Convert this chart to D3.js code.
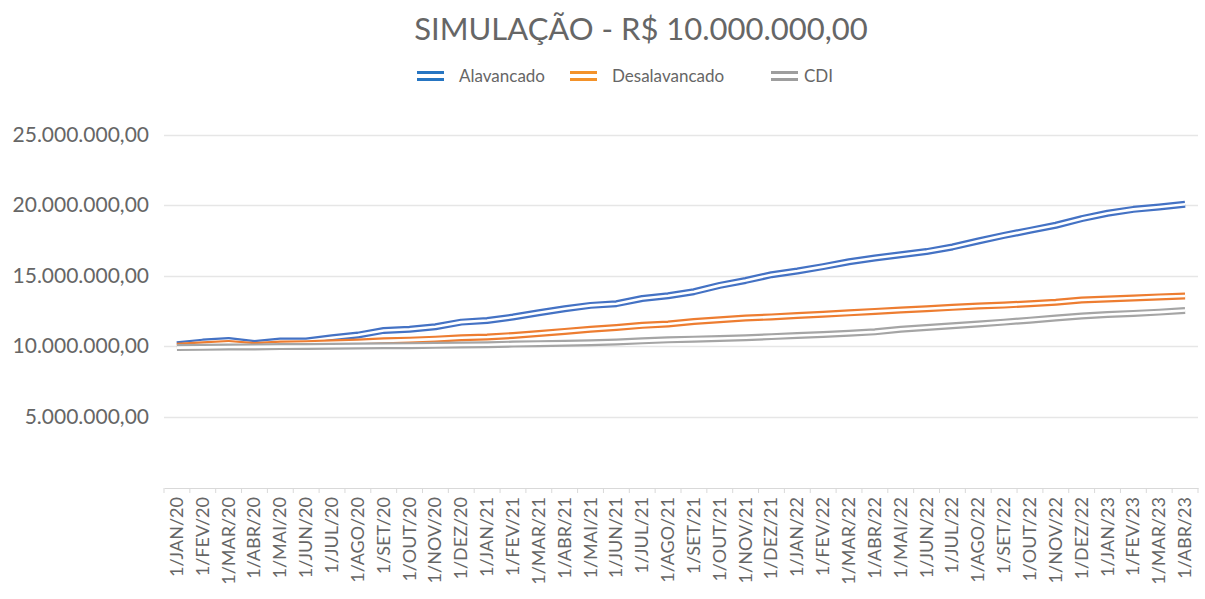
<!DOCTYPE html>
<html>
<head>
<meta charset="utf-8">
<script src="https://cdn.jsdelivr.net/npm/d3@7"></script>
<style>
  body { margin: 0; background: #fff; }
  text { font-family: Lato, "Open Sans", sans-serif; fill: #595959; }
</style>
</head>
<body>
<script>
// categories (months)
var months = ["1/JAN/20","1/FEV/20","1/MAR/20","1/ABR/20","1/MAI/20","1/JUN/20","1/JUL/20","1/AGO/20","1/SET/20","1/OUT/20","1/NOV/20","1/DEZ/20",
  "1/JAN/21","1/FEV/21","1/MAR/21","1/ABR/21","1/MAI/21","1/JUN/21","1/JUL/21","1/AGO/21","1/SET/21","1/OUT/21","1/NOV/21","1/DEZ/21",
  "1/JAN/22","1/FEV/22","1/MAR/22","1/ABR/22","1/MAI/22","1/JUN/22","1/JUL/22","1/AGO/22","1/SET/22","1/OUT/22","1/NOV/22","1/DEZ/22",
  "1/JAN/23","1/FEV/23","1/MAR/23","1/ABR/23"];

// series values, in millions
var alavancado = [10.1,10.29,10.4,10.19,10.37,10.37,10.6,10.79,11.12,11.2,11.38,11.71,
  11.83,12.07,12.38,12.66,12.9,13.02,13.39,13.58,13.87,14.32,14.67,15.08,
  15.34,15.65,16.0,16.27,16.5,16.72,17.05,17.47,17.87,18.23,18.59,19.06,
  19.44,19.72,19.89,20.08];
var desalavancado = [10.0,10.1,10.2,10.05,10.15,10.18,10.25,10.3,10.38,10.43,10.5,10.6,
  10.65,10.76,10.9,11.05,11.2,11.33,11.48,11.58,11.75,11.88,12.0,12.08,
  12.18,12.27,12.37,12.47,12.57,12.66,12.76,12.85,12.92,13.02,13.12,13.28,
  13.35,13.42,13.5,13.56];
var cdi = [9.9,9.92,9.94,9.95,9.97,9.98,10.0,10.01,10.03,10.04,10.06,10.08,
  10.1,10.15,10.18,10.21,10.24,10.3,10.38,10.45,10.5,10.55,10.6,10.68,
  10.76,10.83,10.92,11.02,11.2,11.33,11.45,11.58,11.71,11.85,12.0,12.14,
  12.25,12.33,12.42,12.54];

var yTicks = [5e6, 10e6, 15e6, 20e6, 25e6];
var seriesNames = ["Alavancado", "Desalavancado", "CDI"];

var width = 1205, height = 599;
var plotLeft = 164, plotRight = 1198, plotTop = 135, plotBottom = 487;

var svg = d3.select("body").append("svg")
  .attr("width", width)
  .attr("height", height);

// scales
var x = d3.scaleBand().domain(months).range([plotLeft, plotRight]);
var y = d3.scaleLinear().domain([0, 25e6]).range([plotBottom, plotTop]);

// brazilian number format
var fmt = function(v){
  return d3.format(",.2f")(v).replace(/,/g, "X").replace(/\./g, ",").replace(/X/g, ".");
};

// title
svg.append("text")
  .attr("x", 641).attr("y", 40)
  .attr("text-anchor", "middle")
  .style("font-size", "31px")
  .style("fill", "#666")
  .text("SIMULAÇÃO - R$ 10.000.000,00");

// gridlines
svg.selectAll(".grid")
  .data(yTicks)
  .enter().append("line")
  .attr("x1", plotLeft).attr("x2", plotRight)
  .attr("y1", function(d){ return Math.round(y(d)) + 0.5; })
  .attr("y2", function(d){ return Math.round(y(d)) + 0.5; })
  .attr("stroke", "#e6e6e6")
  .attr("stroke-width", 1.5);

// y labels
svg.selectAll(".ylab")
  .data(yTicks)
  .enter().append("text")
  .attr("x", 149)
  .attr("y", function(d){ return y(d) + 7; })
  .attr("text-anchor", "end")
  .style("font-size", "21px")
  .style("fill", "#666")
  .text(fmt);

// x axis
var xAxis = d3.axisBottom(x).tickSize(0).tickFormat("");
var gx = svg.append("g").attr("transform", "translate(0," + (plotBottom + 1) + ")").call(xAxis);
gx.select(".domain").attr("stroke", "#d9d9d9");
// ticks between categories
var bounds = d3.range(months.length + 1);
gx.selectAll(".sep").data(bounds).enter().append("line")
  .attr("x1", function(i){ return plotLeft + i * x.step(); })
  .attr("x2", function(i){ return plotLeft + i * x.step(); })
  .attr("y1", 0).attr("y2", 5)
  .attr("stroke", "#d9d9d9");

svg.selectAll(".xlab")
  .data(months)
  .enter().append("text")
  .attr("transform", function(d){
    return "translate(" + (x(d) + x.bandwidth() / 2 + 6) + ",497) rotate(-90)";
  })
  .attr("text-anchor", "end")
  .style("font-size", "18px")
  .style("fill", "#666")
  .text(function(d){ return d; });

// lines, drawn as Excel double lines
var lineColors = ["#4472C4", "#ED7D31", "#A5A5A5"];
var legendColors = ["#2675c2", "#f3922a", "#9e9e9e"];
var allSeries = [alavancado, desalavancado, cdi];

var line = d3.line()
  .x(function(d, i){ return x(months[i]) + x.bandwidth() / 2; })
  .y(function(d){ return y(d * 1e6); });

allSeries.forEach(function(s, k){
  svg.append("path")
    .attr("d", line(s))
    .attr("fill", "none")
    .attr("stroke", lineColors[k])
    .attr("stroke-width", 7)
    .attr("stroke-linejoin", "round");
  svg.append("path")
    .attr("d", line(s))
    .attr("fill", "none")
    .attr("stroke", "#fff")
    .attr("stroke-width", 2.6)
    .attr("stroke-linejoin", "round");
});

// legend
var legendX = [417, 570, 771];
var legendTextX = [459, 612, 804];
seriesNames.forEach(function(name, k){
  var g = svg.append("g");
  g.append("rect").attr("x", legendX[k]).attr("y", 71).attr("width", 27).attr("height", 3)
    .attr("fill", legendColors[k]);
  g.append("rect").attr("x", legendX[k]).attr("y", 78).attr("width", 27).attr("height", 3)
    .attr("fill", legendColors[k]);
  g.append("text").attr("x", legendTextX[k]).attr("y", 82)
    .style("font-size", "17px")
    .style("fill", "#666")
    .text(name);
});
</script>
</body>
</html>
